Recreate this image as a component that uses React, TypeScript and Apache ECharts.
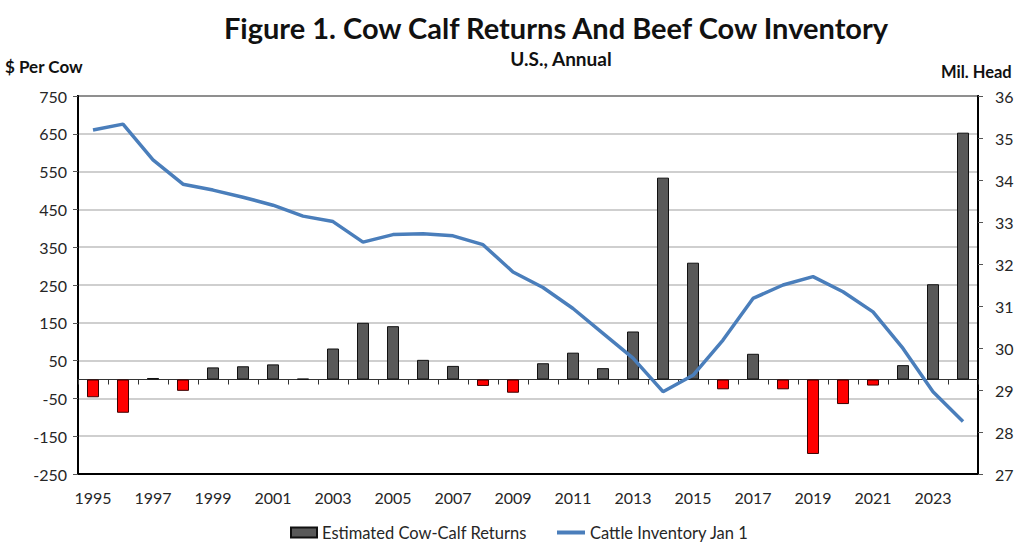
import React, { useEffect, useRef } from "react";
import * as echarts from "echarts";

const years = [
  "1995", "1996", "1997", "1998", "1999", "2000", "2001", "2002", "2003", "2004",
  "2005", "2006", "2007", "2008", "2009", "2010", "2011", "2012", "2013", "2014",
  "2015", "2016", "2017", "2018", "2019", "2020", "2021", "2022", "2023", "2024",
];
const cowCalfReturns = [
  -47, -88, 4, -30, 32, 35, 40, 2, 82, 150,
  141, 52, 36, -17, -35, 43, 71, 30, 127, 534,
  309, -26, 68, -26, -197, -65, -16, 38, 252, 653,
];
const cattleInventory = [
  35.19, 35.33, 34.48, 33.9, 33.76, 33.59, 33.4, 33.14, 33.01, 32.52,
  32.7, 32.72, 32.67, 32.46, 31.81, 31.44, 30.94, 30.35, 29.76, 28.96,
  29.35, 30.19, 31.18, 31.5, 31.7, 31.34, 30.86, 29.99, 28.96, 28.25,
];
const leftAxis = { min: -250, max: 750, interval: 100 };
const rightAxis = { min: 27, max: 36, interval: 1 };

const FONT = "Lato, 'Open Sans', sans-serif";
const TXT = "#262626";
const BAR_NAME = "Estimated Cow-Calf Returns";
const LINE_NAME = "Cattle Inventory Jan 1";

export default function App() {
  const ref = useRef<HTMLDivElement>(null);
  useEffect(() => {
    if (!ref.current) return;
    const chart = echarts.init(ref.current, null, { renderer: "svg" });
    chart.setOption({
      animation: false,
      backgroundColor: "#ffffff",
      textStyle: { fontFamily: FONT },
      title: [
        {
          text: "Figure 1. Cow Calf Returns And Beef Cow Inventory",
          left: 551,
          textAlign: "center",
          top: 8,
          textStyle: { fontFamily: FONT, fontWeight: "bold", fontSize: 29, color: "#111" },
        },
        {
          text: "U.S., Annual",
          left: 556,
          textAlign: "center",
          top: 44,
          textStyle: { fontFamily: FONT, fontWeight: "bold", fontSize: 19, color: "#111" },
        },
        {
          text: "$ Per Cow",
          left: 0,
          top: 53,
          textStyle: { fontFamily: FONT, fontWeight: "bold", fontSize: 17, color: "#111" },
        },
        {
          text: "Mil. Head",
          left: 936,
          top: 58,
          textStyle: { fontFamily: FONT, fontWeight: "bold", fontSize: 16.5, color: "#111" },
        },
      ],
      legend: [
        {
          left: 285,
          top: 519,
          itemWidth: 26,
          itemHeight: 10,
          textStyle: { fontFamily: FONT, fontSize: 16.5, color: TXT },
          data: [{ name: BAR_NAME, icon: "rect" }],
        },
        {
          left: 552,
          top: 519,
          itemWidth: 28,
          itemHeight: 4,
          textStyle: { fontFamily: FONT, fontSize: 16.5, color: TXT },
          data: [{ name: LINE_NAME, icon: "rect" }],
        },
      ],
      grid: {
        left: 78,
        top: 96,
        right: 46,
        bottom: 76,
        show: true,
        borderColor: "#000",
        borderWidth: 2,
        backgroundColor: "transparent",
      },
      xAxis: [
        {
          type: "category",
          data: years,
          position: "bottom",
          axisLine: { onZero: false, show: true, lineStyle: { color: "#000", width: 2 } },
          axisTick: { show: false },
          axisLabel: {
            interval: 1,
            margin: 15,
            fontFamily: FONT,
            fontSize: 16,
            color: TXT,
          },
          splitLine: { show: false },
        },
        {
          type: "category",
          data: years,
          position: "bottom",
          axisLine: {
            show: true,
            onZero: true,
            onZeroAxisIndex: 0,
            lineStyle: { color: "#333", width: 1 },
          },
          axisTick: { show: true, interval: 0, length: 5, lineStyle: { color: "#333" } },
          axisLabel: { show: false },
          splitLine: { show: false },
        },
      ],
      yAxis: [
        {
          type: "value",
          min: leftAxis.min,
          max: leftAxis.max,
          interval: leftAxis.interval,
          position: "left",
          axisLine: { show: true, lineStyle: { color: "#000", width: 2 } },
          axisTick: { show: true, length: 5, lineStyle: { color: "#555" } },
          axisLabel: { margin: 11, fontFamily: FONT, fontSize: 16, color: TXT },
          splitLine: { show: true, lineStyle: { color: "#bfbfbf", width: 1.5 } },
        },
        {
          type: "value",
          min: rightAxis.min,
          max: rightAxis.max,
          interval: rightAxis.interval,
          position: "right",
          axisLine: { show: true, lineStyle: { color: "#000", width: 2 } },
          axisTick: { show: true, length: 5, lineStyle: { color: "#555" } },
          axisLabel: { margin: 17, fontFamily: FONT, fontSize: 16, color: TXT },
          splitLine: { show: false },
        },
      ],
      series: [
        {
          name: BAR_NAME,
          type: "bar",
          xAxisIndex: 0,
          yAxisIndex: 0,
          barWidth: 12,
          itemStyle: { color: "#595959", borderColor: "#111", borderWidth: 1 },
          data: cowCalfReturns.map((v) =>
            v < 0
              ? { value: v, itemStyle: { color: "#ff0000", borderColor: "#3a0000", borderWidth: 1 } }
              : { value: v }
          ),
          z: 2,
        },
        {
          name: LINE_NAME,
          type: "line",
          xAxisIndex: 0,
          yAxisIndex: 1,
          showSymbol: false,
          symbol: "none",
          lineStyle: { color: "#4a7ebb", width: 3.5 },
          itemStyle: { color: "#4a7ebb" },
          data: cattleInventory,
          z: 3,
        },
      ],
    });
    return () => chart.dispose();
  }, []);
  return (
    <div
      ref={ref}
      style={{ position: "fixed", left: 0, top: 0, width: 1024, height: 550, background: "#fff" }}
    />
  );
}
